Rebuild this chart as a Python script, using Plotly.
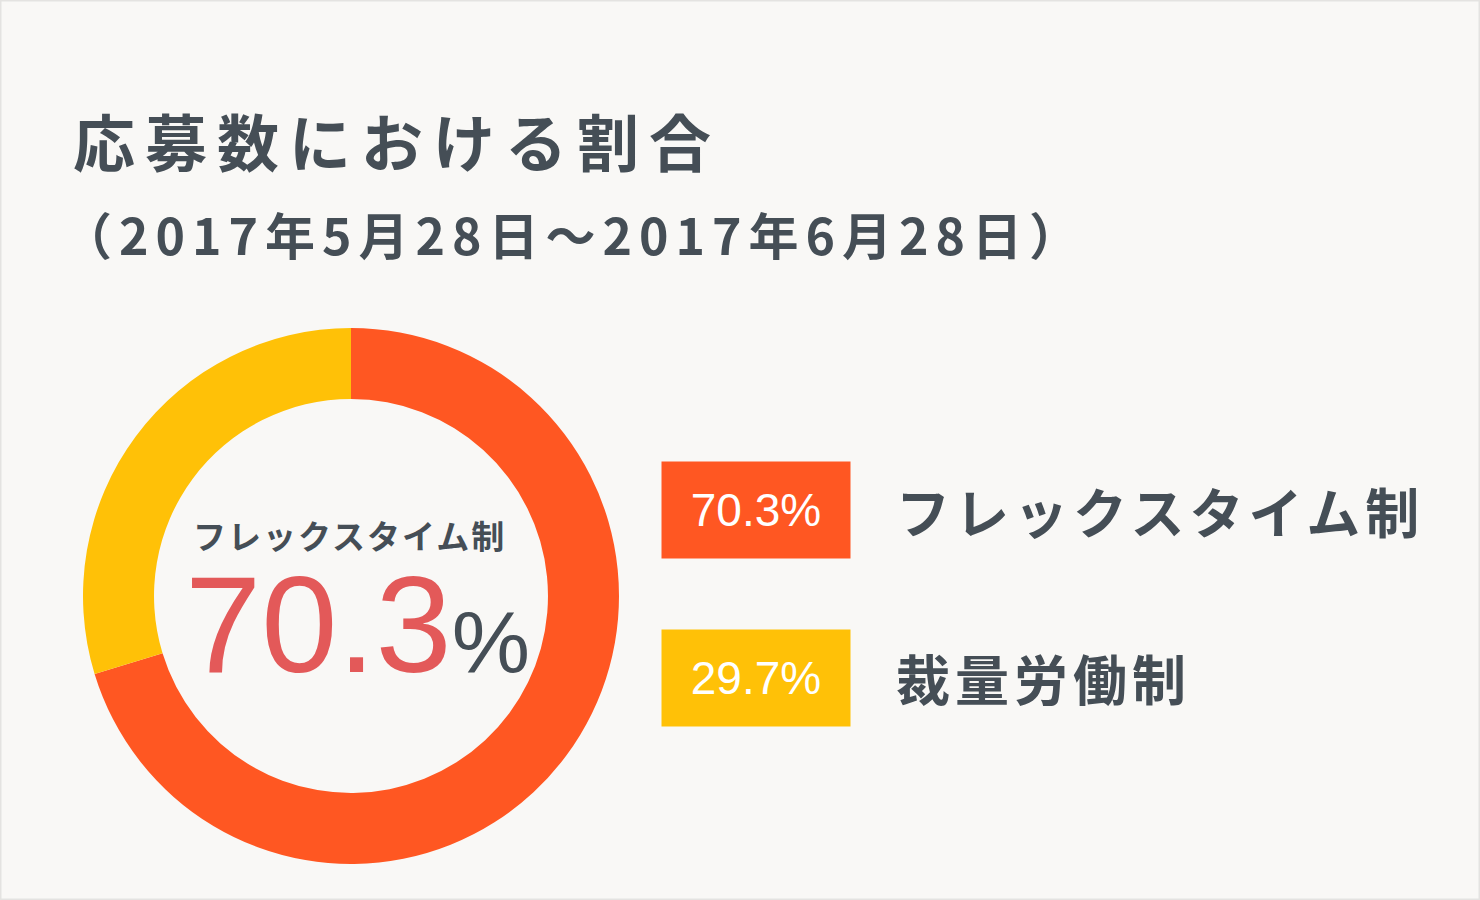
import plotly.graph_objects as go

# ---- data -------------------------------------------------------------------
TITLE = "応募数における割合"
PERIOD = "（2017年5月28日～2017年6月28日）"
labels = ["フレックスタイム制", "裁量労働制"]
shares = [70.3, 29.7]

# ---- palette ----------------------------------------------------------------
BG = "#F9F8F6"
EDGE = "#E4E3E1"
TXT = "#454E56"
RED = "#E35959"
COLORS = ["#FF5722", "#FFC107"]
JP = "'Noto Sans CJK JP', 'Noto Sans', sans-serif"
NUM = "'Liberation Sans', Arial, sans-serif"

W, H = 1480, 900


def px(x):
    return x / W


def py(y):
    return 1 - y / H


def spaced(text, gap):
    return f'<span style="letter-spacing:{gap}px">{text}</span>'


# donut centre / radius in page pixels
CX, CY, R = 351, 596, 268

fig = go.Figure(go.Pie(
    labels=labels, values=shares, sort=False, direction="clockwise", rotation=0,
    hole=0.735, marker=dict(colors=COLORS, line=dict(width=0)),
    textinfo="none", hoverinfo="label+percent", showlegend=False,
    domain=dict(x=[px(CX - R), px(CX + R)], y=[py(CY + R), py(CY - R)]),
))

ann = []
# title + period
ann.append(dict(text=spaced(TITLE, 10), x=px(71), y=py(140), xanchor="left", yanchor="middle",
                font=dict(family=JP, size=62, color=TXT, weight="bold")))
ann.append(dict(text=spaced(PERIOD, 7), x=px(60), y=py(233), xanchor="left", yanchor="middle",
                font=dict(family=JP, size=50, color=TXT, weight="bold")))

# centre of the donut
ann.append(dict(text=spaced(labels[0], 2), x=px(CX - 2), y=py(535), xanchor="center", yanchor="middle",
                font=dict(family=JP, size=33, color=TXT, weight="bold")))
big = (f'<span style="font-size:137px;fill:{RED}">{shares[0]}</span>'
       f'<span style="font-size:88px">%</span>')
# explicit box height keeps the big number's box clear of the label above
ann.append(dict(text=big, x=px(CX + 6), y=py(624), xanchor="center", yanchor="middle",
                height=120, valign="middle",
                font=dict(family=NUM, size=88, color=TXT)))

# legend rows
rows_y = [510.5, 677.5]
for lab, val, col, yy in zip(labels, shares, COLORS, rows_y):
    ann.append(dict(text=f"{val}%", x=px(756), y=py(yy), xanchor="center", yanchor="middle",
                    width=188, height=96, bgcolor=col, borderpad=0,
                    font=dict(family=NUM, size=46, color="white")))
    ann.append(dict(text=spaced(lab, 5), x=px(894), y=py(yy), xanchor="left", yanchor="middle",
                    font=dict(family=JP, size=54, color=TXT, weight="bold")))

for a in ann:
    a.update(xref="paper", yref="paper", showarrow=False)

fig.update_layout(
    width=W, height=H, autosize=False,
    margin=dict(l=0, r=0, t=0, b=0),
    paper_bgcolor=BG, plot_bgcolor=BG,
    annotations=ann,
    shapes=[dict(type="rect", xref="paper", yref="paper", x0=0, x1=1, y0=0, y1=1,
                 line=dict(color=EDGE, width=3))],
)

# page body has an 8px default margin; drop it so the figure fills the window
fig.write_html("out.html", config={"displayModeBar": False},
               post_script="document.body.style.margin='0';")
